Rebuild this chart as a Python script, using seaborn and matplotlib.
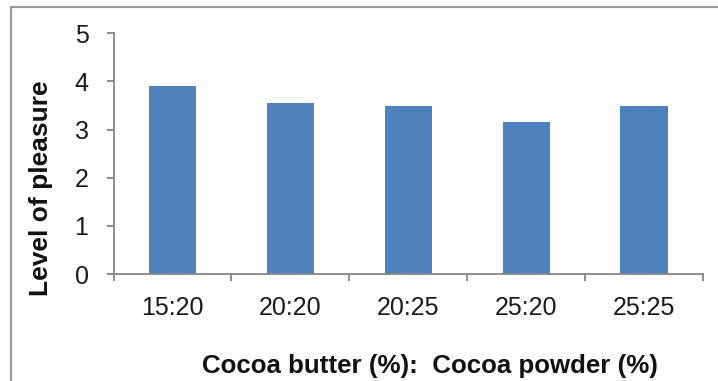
import matplotlib
matplotlib.use("Agg")
import matplotlib.pyplot as plt
from matplotlib.patches import Rectangle
from matplotlib.ticker import FixedLocator
import pandas as pd
import seaborn as sns

# Sensory score per cocoa butter : cocoa powder ratio
ratios = ["15:20", "20:20", "20:25", "25:20", "25:25"]
pleasure = [3.9, 3.55, 3.48, 3.15, 3.48]
y_ticks = [0, 1, 2, 3, 4, 5]

df = pd.DataFrame({"ratio": ratios, "pleasure": pleasure})

sns.set_theme(style="white")
plt.rcParams["font.family"] = ["Liberation Sans", "DejaVu Sans"]

W, H = 718, 381
fig = plt.figure(figsize=(W / 100, H / 100), dpi=100)
ax = fig.add_axes([113.5 / W, 1 - 274 / H, (703 - 113.5) / W, (274 - 33.3) / H])

sns.barplot(data=df, x="ratio", y="pleasure", color="#4F81BD", saturation=1,
            width=0.4, ax=ax, edgecolor="none")

axis_grey = "#868686"
ax.set_xlim(-0.5, len(ratios) - 0.5)
ax.set_ylim(0, 5)
ax.set_yticks(y_ticks)
for side in ("top", "right"):
    ax.spines[side].set_visible(False)
for side in ("left", "bottom"):
    ax.spines[side].set_color(axis_grey)
    ax.spines[side].set_linewidth(1.3)

# category separators as short tick marks below the axis
ax.xaxis.set_minor_locator(FixedLocator([i - 0.5 for i in range(len(ratios) + 1)]))
ax.tick_params(axis="x", which="minor", bottom=True, length=5, width=1.3,
               color=axis_grey, direction="out")
ax.tick_params(axis="x", which="major", bottom=True, length=0, pad=15.5,
               labelsize=18, labelcolor="#1a1a1a")
ax.tick_params(axis="y", which="major", left=True, length=5, width=1.3,
               color=axis_grey, direction="out", pad=13, labelsize=18,
               labelcolor="#1a1a1a")

ax.set_xlabel("Cocoa butter (%):  Cocoa powder (%)", fontsize=18.6,
              fontweight="bold", color="#111111")
ax.set_ylabel("Level of pleasure", fontsize=19, fontweight="bold",
              color="#111111")
ax.xaxis.set_label_coords((430 - 113.5) / (703 - 113.5), (274 - 354) / (274 - 33.3))
ax.yaxis.set_label_coords((53 - 113.5) / (703 - 113.5), (274 - 188.5) / (274 - 33.3))

# chart area border
fig.patches.append(Rectangle((10.5 / W, -0.05), 1.2, 1 - 7 / H + 0.05,
                             transform=fig.transFigure, fill=False,
                             edgecolor="#9a9a9a", linewidth=1.6))

fig.savefig("out.png", dpi=100)
